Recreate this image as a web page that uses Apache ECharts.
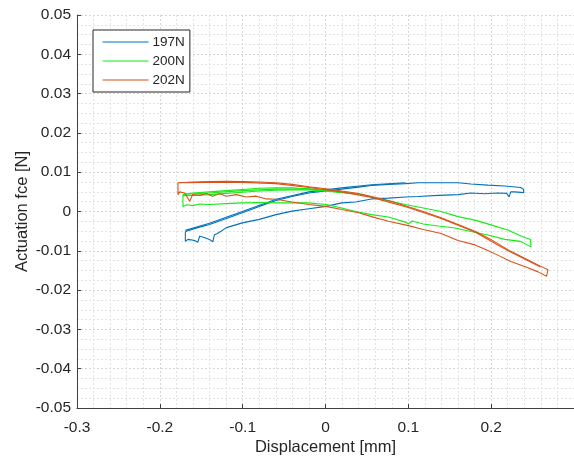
<!DOCTYPE html>
<html>
<head>
<meta charset="utf-8">
<script src="https://cdn.jsdelivr.net/npm/echarts@6/dist/echarts.min.js"></script>
<style>
  html, body { margin: 0; padding: 0; background: #fff; }
  #chart { width: 574px; height: 461px; }
</style>
</head>
<body>
<div id="chart"></div>
<script>
// Force–displacement hysteresis loops, one per preload level.
const seriesNames = ['197N', '200N', '202N'];
const xTicks = { min: -0.3, max: 0.3, step: 0.1 };
const yTicks = { min: -0.05, max: 0.05, step: 0.01 };

// 197N: loading branch (left to right), then unloading branch back
const loop197 = [
  [-0.1689, -0.0051], [-0.1544, -0.0041], [-0.1400, -0.0033], [-0.1196, -0.0018],
  [-0.1004, -0.0003], [-0.0800, 0.0013], [-0.0596, 0.0028], [-0.0404, 0.0038],
  [-0.0200, 0.0047], [0.0004, 0.0052], [0.0196, 0.0057], [0.0400, 0.0062],
  [0.0556, 0.0066], [0.0760, 0.0069], [0.0964, 0.0071], [0.1120, 0.0073],
  [0.1360, 0.0073], [0.1600, 0.0073], [0.1756, 0.0070], [0.1960, 0.0067],
  [0.2164, 0.0065], [0.2356, 0.0061], [0.2392, 0.0056], [0.2392, 0.0048],
  [0.2284, 0.0050], [0.2236, 0.0050], [0.2218, 0.0037], [0.2188, 0.0046],
  [0.2080, 0.0047], [0.1924, 0.0045], [0.1756, 0.0047], [0.1600, 0.0043],
  [0.1360, 0.0041], [0.1120, 0.0038], [0.0964, 0.0037], [0.0760, 0.0034],
  [0.0556, 0.0032], [0.0364, 0.0024], [0.0196, 0.0022], [0.0004, 0.0013],
  [-0.0200, 0.0007], [-0.0404, 0.0001], [-0.0596, -0.0008], [-0.0800, -0.0020],
  [-0.1004, -0.0029], [-0.1196, -0.0041], [-0.1304, -0.0056], [-0.1340, -0.0059],
  [-0.1361, -0.0077], [-0.1400, -0.0071], [-0.1481, -0.0065], [-0.1520, -0.0063],
  [-0.1541, -0.0078], [-0.1580, -0.0074], [-0.1661, -0.0071], [-0.1692, -0.0076],
  [-0.1692, -0.0051]
];
// 197N: repeated loading pass
const pass197 = [
  [-0.1692, -0.0048], [-0.1400, -0.0030], [-0.1004, 0.0000], [-0.0596, 0.0031],
  [-0.0200, 0.0050], [0.0196, 0.0060], [0.0556, 0.0068], [0.0964, 0.0073]
];

// 200N
const loop200 = [
  [-0.1721, 0.0043], [-0.1700, 0.0047], [-0.1604, 0.0047], [-0.1400, 0.0050],
  [-0.1196, 0.0053], [-0.1004, 0.0056], [-0.0800, 0.0059], [-0.0596, 0.0060],
  [-0.0404, 0.0060], [-0.0200, 0.0058], [0.0004, 0.0054], [0.0196, 0.0049],
  [0.0400, 0.0045], [0.0556, 0.0037], [0.0760, 0.0027], [0.0964, 0.0018],
  [0.1180, 0.0009], [0.1396, 0.0000], [0.1600, -0.0013], [0.1804, -0.0022],
  [0.1996, -0.0034], [0.2200, -0.0047], [0.2380, -0.0064], [0.2476, -0.0071],
  [0.2480, -0.0090], [0.2356, -0.0076], [0.2164, -0.0071], [0.1960, -0.0060],
  [0.1756, -0.0051], [0.1564, -0.0042], [0.1360, -0.0037], [0.1180, -0.0032],
  [0.1048, -0.0024], [0.1000, -0.0031], [0.0964, -0.0027], [0.0760, -0.0014],
  [0.0556, -0.0008], [0.0364, 0.0000], [0.0196, 0.0009], [0.0004, 0.0018],
  [-0.0200, 0.0022], [-0.0404, 0.0022], [-0.0596, 0.0022], [-0.0800, 0.0023],
  [-0.1004, 0.0022], [-0.1196, 0.0020], [-0.1400, 0.0018], [-0.1520, 0.0019],
  [-0.1604, 0.0015], [-0.1676, 0.0017], [-0.1721, 0.0013], [-0.1721, 0.0043]
];
const pass200a = [
  [-0.1721, 0.0040], [-0.1604, 0.0041], [-0.1400, 0.0043], [-0.1196, 0.0046],
  [-0.1004, 0.0049], [-0.0800, 0.0052], [-0.0596, 0.0054], [-0.0404, 0.0055],
  [-0.0200, 0.0055], [0.0004, 0.0052], [0.0196, 0.0048], [0.0400, 0.0044]
];
const pass200b = [
  [-0.1700, 0.0044], [-0.1400, 0.0047], [-0.1004, 0.0053], [-0.0596, 0.0057],
  [-0.0200, 0.0057], [0.0196, 0.0049]
];

// 202N
const loop202 = [
  [-0.1781, 0.0073], [-0.1760, 0.0075], [-0.1604, 0.0075], [-0.1400, 0.0076],
  [-0.1196, 0.0077], [-0.1004, 0.0076], [-0.0800, 0.0075], [-0.0596, 0.0073],
  [-0.0404, 0.0069], [-0.0200, 0.0063], [0.0004, 0.0058], [0.0196, 0.0052],
  [0.0400, 0.0046], [0.0556, 0.0038], [0.0760, 0.0028], [0.1000, 0.0012],
  [0.1180, 0.0000], [0.1396, -0.0016], [0.1600, -0.0033], [0.1804, -0.0050],
  [0.1996, -0.0071], [0.2200, -0.0097], [0.2404, -0.0119], [0.2596, -0.0139],
  [0.2686, -0.0148], [0.2668, -0.0165], [0.2560, -0.0153], [0.2404, -0.0140],
  [0.2236, -0.0127], [0.2080, -0.0111], [0.1960, -0.0099], [0.1804, -0.0085],
  [0.1600, -0.0074], [0.1396, -0.0056], [0.1180, -0.0046], [0.1000, -0.0036],
  [0.0760, -0.0025], [0.0556, -0.0013], [0.0400, -0.0003], [0.0196, 0.0005],
  [0.0004, 0.0013], [-0.0200, 0.0018], [-0.0404, 0.0024], [-0.0596, 0.0031],
  [-0.0716, 0.0032], [-0.0836, 0.0039], [-0.0956, 0.0037], [-0.1076, 0.0043],
  [-0.1196, 0.0039], [-0.1280, 0.0045], [-0.1364, 0.0039], [-0.1436, 0.0046],
  [-0.1520, 0.0041], [-0.1604, 0.0043], [-0.1640, 0.0026], [-0.1700, 0.0047],
  [-0.1760, 0.0050], [-0.1781, 0.0043], [-0.1781, 0.0073]
];
const pass202 = [
  [-0.1760, 0.0073], [-0.1400, 0.0074], [-0.1004, 0.0074], [-0.0596, 0.0071],
  [-0.0200, 0.0061], [0.0196, 0.0050], [0.0556, 0.0036], [0.1000, 0.0010],
  [0.1396, -0.0018], [0.1804, -0.0052], [0.2200, -0.0099], [0.2596, -0.0141]
];

const colors = { '197N': '#0072BD', '200N': '#14EC14', '202N': '#D95319' };
const traces = [
  ['197N', loop197], ['197N', pass197],
  ['200N', loop200], ['200N', pass200a], ['200N', pass200b],
  ['202N', loop202], ['202N', pass202]
];

const textColor = '#262626';
const font = '"Liberation Sans", Arial, Helvetica, sans-serif';

const chart = echarts.init(document.getElementById('chart'), null, { renderer: 'canvas' });

chart.setOption({
  animation: false,
  backgroundColor: '#ffffff',
  grid: { left: 77, right: -2, top: 15, bottom: 53, containLabel: false },
  legend: {
    data: seriesNames,
    orient: 'vertical',
    left: 93,
    top: 30,
    width: 96,
    padding: [5, 5, 5, 9],
    itemWidth: 46,
    itemHeight: 14,
    itemGap: 5,
    backgroundColor: '#ffffff',
    borderColor: '#262626',
    borderWidth: 1,
    borderRadius: 0,
    itemStyle: { opacity: 0 },
    lineStyle: { width: 1.2 },
    textStyle: { color: textColor, fontSize: 13.5, fontFamily: font, padding: [0, 0, 0, -1] }
  },
  xAxis: {
    type: 'value',
    min: xTicks.min,
    max: xTicks.max,
    interval: xTicks.step,
    name: 'Displacement [mm]',
    nameLocation: 'middle',
    nameGap: 31,
    nameMoveOverlap: false,
    nameTextStyle: { color: textColor, fontSize: 16.5, fontFamily: font },
    axisLine: { show: true, onZero: false, lineStyle: { color: '#404040', width: 1 } },
    axisTick: { show: true, inside: true, length: 4, lineStyle: { color: '#404040' } },
    axisLabel: { color: textColor, fontSize: 15.5, fontFamily: font, margin: 12, showMaxLabel: false },
    splitLine: { show: true, lineStyle: { color: '#d6d6d6', type: [2, 2], width: 1 } },
    minorTick: { show: false, splitNumber: 5 },
    minorSplitLine: { show: true, lineStyle: { color: '#e3e3e3', type: [2, 2], width: 1 } }
  },
  yAxis: {
    type: 'value',
    min: yTicks.min,
    max: yTicks.max,
    interval: yTicks.step,
    name: 'Actuation fce [N]',
    nameLocation: 'middle',
    nameRotate: 90,
    nameGap: 46,
    nameMoveOverlap: false,
    nameTextStyle: { color: textColor, fontSize: 16.5, fontFamily: font },
    axisLine: { show: true, onZero: false, lineStyle: { color: '#404040', width: 1 } },
    axisTick: { show: true, inside: true, length: 4, lineStyle: { color: '#404040' } },
    axisLabel: { color: textColor, fontSize: 15.5, fontFamily: font, margin: 6 },
    splitLine: { show: true, lineStyle: { color: '#d6d6d6', type: [2, 2], width: 1 } },
    minorTick: { show: false, splitNumber: 4 },
    minorSplitLine: { show: true, lineStyle: { color: '#e3e3e3', type: [2, 2], width: 1 } }
  },
  series: traces.map(([name, pts]) => ({
    name: name,
    type: 'line',
    data: pts,
    symbol: 'none',
    showSymbol: false,
    clip: true,
    color: colors[name],
    lineStyle: { color: colors[name], width: 1.1 },
    emphasis: { disabled: true }
  }))
});
</script>
</body>
</html>
